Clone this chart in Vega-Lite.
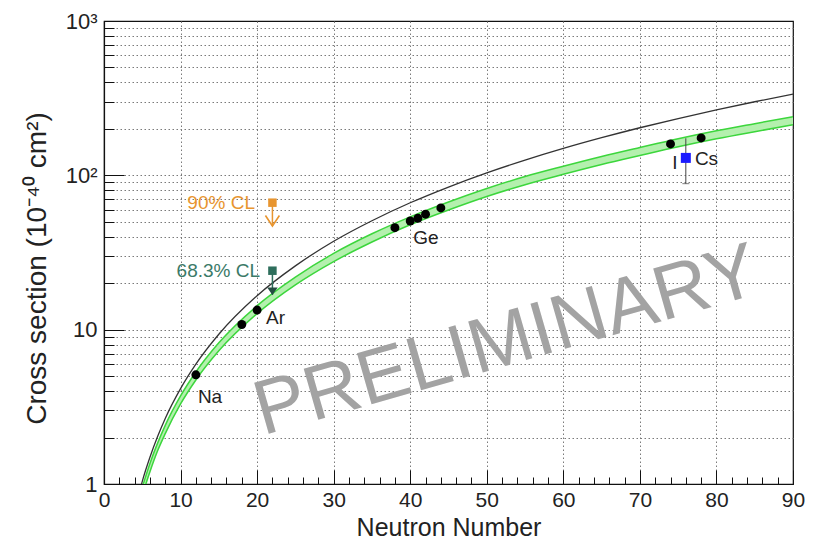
{
  "$schema": "https://vega.github.io/schema/vega-lite/v6.json",
  "width": 689,
  "height": 463,
  "autosize": {"type": "none"},
  "padding": {"left": 104, "top": 21, "right": 34, "bottom": 55},
  "background": "white",
  "config": {
    "font": "Liberation Sans",
    "view": {"stroke": "#111", "strokeWidth": 1.2},
    "axis": {"domainColor": "#111", "domainWidth": 1.2, "tickColor": "#111", "labelColor": "#222", "titleColor": "#222", "labelFont": "Liberation Sans", "titleFont": "Liberation Sans", "titleFontWeight": "normal"}
  },
  "datasets": {
    "sm": [
      {"N": 4.8, "s": 0.956}, {"N": 5, "s": 1.04}, {"N": 6, "s": 1.49}, {"N": 7, "s": 2.03}, {"N": 8, "s": 2.66},
      {"N": 10, "s": 4.15}, {"N": 12, "s": 5.98}, {"N": 15, "s": 9.34}, {"N": 20, "s": 16.6}, {"N": 25, "s": 25.9},
      {"N": 30, "s": 37.4}, {"N": 35, "s": 50.8}, {"N": 40, "s": 66.4}, {"N": 45, "s": 84.0}, {"N": 50, "s": 103.8},
      {"N": 55, "s": 125.5}, {"N": 60, "s": 149.4}, {"N": 65, "s": 175.3}, {"N": 70, "s": 203.4}, {"N": 75, "s": 233.4},
      {"N": 80, "s": 265.6}, {"N": 85, "s": 299.8}, {"N": 90, "s": 336}
    ],
    "fit": [
      {"N": 5, "s": 0.846, "s2": 0.954}, {"N": 6, "s": 1.20, "s2": 1.36}, {"N": 7, "s": 1.64, "s2": 1.84},
      {"N": 8, "s": 2.12, "s2": 2.40}, {"N": 10, "s": 3.30, "s2": 3.72}, {"N": 12, "s": 4.72, "s2": 5.32},
      {"N": 15, "s": 7.29, "s2": 8.22}, {"N": 20, "s": 12.7, "s2": 14.3}, {"N": 25, "s": 19.5, "s2": 21.9},
      {"N": 30, "s": 27.6, "s2": 31.2}, {"N": 35, "s": 37.0, "s2": 41.8}, {"N": 40, "s": 47.8, "s2": 53.8},
      {"N": 45, "s": 59.6, "s2": 67.2}, {"N": 50, "s": 72.9, "s2": 82.2}, {"N": 55, "s": 87.0, "s2": 98.2},
      {"N": 60, "s": 101.5, "s2": 114.5}, {"N": 65, "s": 117.5, "s2": 132.5}, {"N": 70, "s": 134.4, "s2": 151.6},
      {"N": 75, "s": 153.2, "s2": 172.8}, {"N": 80, "s": 172.5, "s2": 194.5}, {"N": 85, "s": 191.8, "s2": 216.2},
      {"N": 90, "s": 212.4, "s2": 239.6}
    ],
    "meas": [
      {"N": 12, "s": 5.1, "target": "Na"}, {"N": 18, "s": 10.8, "target": "Ar"}, {"N": 20, "s": 13.4, "target": "Ar"},
      {"N": 38, "s": 45.8, "target": "Ge"}, {"N": 40, "s": 50.6, "target": "Ge"}, {"N": 41, "s": 52.7, "target": "Ge"},
      {"N": 42, "s": 56.0, "target": "Ge"}, {"N": 44, "s": 61.5, "target": "Ge"},
      {"N": 74, "s": 159.7, "target": "I"}, {"N": 78, "s": 174.7, "target": "Cs"}
    ],
    "cs": [{"N": 76, "s": 129.7, "lo": 88.3, "hi": 174}],
    "limits": [
      {"N": 22, "s": 66.5, "s2": 47.0, "cl": "90% CL", "lx": 19.72},
      {"N": 22, "s": 24.1, "s2": 16.8, "cl": "68.3% CL", "lx": 20.38}
    ],
    "labels": [
      {"N": 13.85, "s": 3.68, "t": "Na"}, {"N": 22.4, "s": 11.96, "t": "Ar"}, {"N": 42.06, "s": 39.1, "t": "Ge"},
      {"N": 74.58, "s": 119.8, "t": "I"}, {"N": 78.7, "s": 127.7, "t": "Cs"}
    ],
    "wm": [{"N": 52.6, "s": 8.36, "t": "PRELIMINARY"}]
  },
  "encoding": {
    "x": {
      "field": "N", "type": "quantitative",
      "scale": {"domain": [0, 90], "nice": false, "zero": false},
      "axis": {
        "title": "Neutron Number", "titleFontSize": 25, "titleY": 43, "titleBaseline": "middle",
        "values": [0,2,4,6,8,10,12,14,16,18,20,22,24,26,28,30,32,34,36,38,40,42,44,46,48,50,52,54,56,58,60,62,64,66,68,70,72,74,76,78,80,82,84,86,88,90],
        "labelExpr": "datum.value % 10 === 0 ? datum.label : ''",
        "labelFontSize": 21, "labelFlush": false, "labelPadding": 19, "labelBaseline": "top",
        "tickSize": {"condition": {"test": "datum.value % 10 === 0", "value": -14}, "value": -7},
        "grid": true, "gridDash": [1.5, 2.5], "gridColor": "#7a7a7a", "gridWidth": 1,
        "gridOpacity": {"condition": {"test": "datum.value % 10 === 0 && datum.value > 0 && datum.value < 90", "value": 1}, "value": 0}
      }
    },
    "y": {
      "field": "s", "type": "quantitative",
      "scale": {"type": "log", "domain": [1, 1000], "nice": false},
      "axis": {
        "title": "Cross section (10⁻⁴⁰ cm²)", "titleFontSize": 28, "titleX": -67, "titleY": 247, "titleBaseline": "middle", "titleAngle": -90,
        "values": [1,2,3,4,5,6,7,8,9,10,20,30,40,50,60,70,80,90,100,200,300,400,500,600,700,800,900,1000],
        "labelExpr": "datum.value == 1000 ? '10³' : datum.value == 100 ? '10²' : datum.value == 10 ? '10' : datum.value == 1 ? '1' : ''",
        "labelFontSize": 22, "labelFlush": false, "labelPadding": 27, "labelBaseline": "middle",
        "tickSize": {"condition": {"test": "datum.value == 1 || datum.value == 10 || datum.value == 100 || datum.value == 1000", "value": -20}, "value": -10},
        "grid": true, "gridDash": [1.5, 2.5], "gridColor": "#7a7a7a", "gridWidth": 1,
        "gridOpacity": {"condition": {"test": "datum.value > 1 && datum.value < 1000", "value": 1}, "value": 0}
      }
    }
  },
  "layer": [
    {
      "data": {"name": "wm"},
      "mark": {"type": "text", "angle": -16, "fontSize": 77, "color": "#a3a3a3", "align": "center", "baseline": "middle", "font": "Liberation Sans"},
      "encoding": {"text": {"field": "t"}}
    },
    {
      "data": {"name": "fit"},
      "mark": {"type": "area", "color": "#b4f0ae", "interpolate": "monotone", "clip": true},
      "encoding": {"y2": {"field": "s2"}}
    },
    {
      "data": {"name": "fit"},
      "mark": {"type": "line", "color": "#3cd63c", "strokeWidth": 1.5, "interpolate": "monotone", "clip": true},
      "encoding": {}
    },
    {
      "data": {"name": "fit"},
      "mark": {"type": "line", "color": "#3cd63c", "strokeWidth": 1.5, "interpolate": "monotone", "clip": true},
      "encoding": {"y": {"field": "s2", "type": "quantitative"}}
    },
    {
      "data": {"name": "sm"},
      "mark": {"type": "line", "color": "#333", "strokeWidth": 1.3, "interpolate": "monotone", "clip": true},
      "encoding": {}
    },
    {
      "data": {"name": "cs"},
      "mark": {"type": "rule", "color": "#444", "strokeWidth": 1},
      "encoding": {"y": {"field": "lo", "type": "quantitative"}, "y2": {"field": "hi"}}
    },
    {
      "data": {"name": "cs"},
      "mark": {"type": "tick", "orient": "horizontal", "color": "#444", "size": 7, "thickness": 1},
      "encoding": {"y": {"field": "lo", "type": "quantitative"}}
    },
    {
      "data": {"name": "meas"},
      "mark": {"type": "point", "shape": "circle", "filled": true, "color": "#000", "size": 80, "opacity": 1},
      "encoding": {}
    },
    {
      "data": {"name": "cs"},
      "mark": {"type": "point", "shape": "square", "filled": true, "color": "#1a1aff", "size": 100, "opacity": 1},
      "encoding": {}
    },
    {
      "data": {"name": "limits"},
      "mark": {"type": "rule", "strokeWidth": 1.5},
      "encoding": {
        "y2": {"field": "s2"},
        "color": {"field": "cl", "type": "nominal", "scale": {"domain": ["90% CL", "68.3% CL"], "range": ["#e8952f", "#2e6e5c"]}, "legend": null}
      }
    },
    {
      "data": {"name": "limits"},
      "transform": [{"filter": "datum.cl == '90% CL'"}],
      "mark": {"type": "point", "shape": "M-1,-1.5L0,0L1,-1.5", "filled": false, "strokeWidth": 1.6, "color": "#e8952f", "size": 196, "opacity": 1},
      "encoding": {"y": {"field": "s2", "type": "quantitative"}}
    },
    {
      "data": {"name": "limits"},
      "transform": [{"filter": "datum.cl == '68.3% CL'"}],
      "mark": {"type": "point", "shape": "M-1,-1.4L0,0L1,-1.4Z", "filled": true, "color": "#244c41", "size": 110, "opacity": 1},
      "encoding": {"y": {"field": "s2", "type": "quantitative"}}
    },
    {
      "data": {"name": "limits"},
      "mark": {"type": "point", "shape": "square", "filled": true, "size": 72, "opacity": 1},
      "encoding": {
        "color": {"field": "cl", "type": "nominal", "scale": {"domain": ["90% CL", "68.3% CL"], "range": ["#e8952f", "#2e6e5c"]}, "legend": null}
      }
    },
    {
      "data": {"name": "limits"},
      "mark": {"type": "text", "fontSize": 19, "align": "right", "baseline": "middle", "font": "Liberation Sans"},
      "encoding": {
        "x": {"field": "lx", "type": "quantitative"},
        "text": {"field": "cl"},
        "color": {"field": "cl", "type": "nominal", "scale": {"domain": ["90% CL", "68.3% CL"], "range": ["#e8952f", "#3b7a68"]}, "legend": null}
      }
    },
    {
      "data": {"name": "labels"},
      "mark": {"type": "text", "fontSize": 19, "align": "center", "baseline": "middle", "color": "#222", "font": "Liberation Sans"},
      "encoding": {"text": {"field": "t"}}
    }
  ],
  "resolve": {"scale": {"color": "independent"}}
}
